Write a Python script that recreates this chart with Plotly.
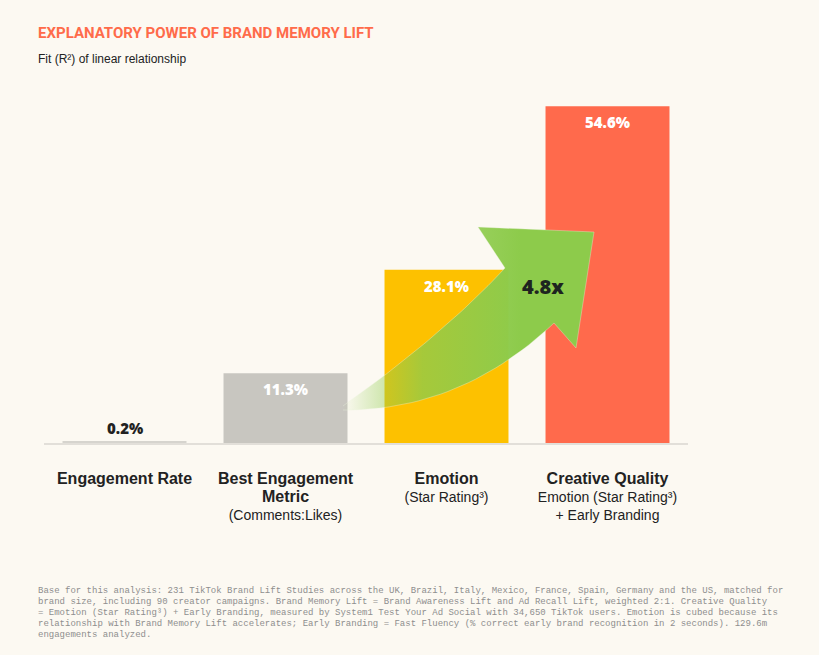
import plotly.graph_objects as go

# data
categories = ["Engagement Rate", "Best Engagement Metric", "Emotion", "Creative Quality"]
values = [0.2, 11.3, 28.1, 54.6]
value_labels = ["0.2%", "11.3%", "28.1%", "54.6%"]
tick_labels = [
    "<span style='font-size:16px'><b>Engagement Rate</b></span>",
    "<span style='font-size:16px'><b>Best Engagement</b></span><br>"
    "<span style='font-size:16px'><b>Metric</b></span><br>(Comments:Likes)",
    "<span style='font-size:16px'><b>Emotion</b></span><br>(Star Rating³)",
    "<span style='font-size:16px'><b>Creative Quality</b></span><br>"
    "Emotion (Star Rating³)<br>+ Early Branding",
]
multiplier_label = "4.8x"

footnote_lines = [
    "Base for this analysis: 231 TikTok Brand Lift Studies across the UK, Brazil, Italy, Mexico, France, Spain, Germany and the US, matched for",
    "brand size, including 90 creator campaigns. Brand Memory Lift = Brand Awareness Lift and Ad Recall Lift, weighted 2:1. Creative Quality",
    "= Emotion (Star Rating³) + Early Branding, measured by System1 Test Your Ad Social with 34,650 TikTok users. Emotion is cubed because its",
    "relationship with Brand Memory Lift accelerates; Early Branding = Fast Fluency (% correct early brand recognition in 2 seconds). 129.6m",
    "engagements analyzed.",
]

W, H = 819, 655
BG = "#FCF9F2"
bar_colors = ["#D6D4CE", "#C8C6C0", "#FDC100", "#FF6A4C"]
label_colors = ["#222222", "#FFFFFF", "#FFFFFF", "#FFFFFF"]
label_shift = [14, -16, -16, -16]


def px(x):
    return x / W


def py(y):
    return 1 - y / H


fig = go.Figure()

fig.add_trace(go.Bar(
    x=categories, y=values,
    marker=dict(color=bar_colors, line=dict(width=0)),
    hoverinfo="skip", showlegend=False,
))


# curved arrow (decoration) drawn in a pixel frame on a second, full-page axis pair
def quad(p0, c, p1, n=30):
    pts = []
    for i in range(n + 1):
        t = i / n
        a, b, d = (1 - t) ** 2, 2 * (1 - t) * t, t ** 2
        pts.append((a * p0[0] + b * c[0] + d * p1[0], a * p0[1] + b * c[1] + d * p1[1]))
    return pts


upper = quad((343, 406), (444, 334), (505, 268))
lower = quad((554, 323), (461, 411), (343, 410))
head = [(478, 227), (594, 232), (576, 348)]
arrow = upper + head + lower
fig.add_trace(go.Scatter(
    x=[p[0] for p in arrow], y=[p[1] for p in arrow],
    xaxis="x2", yaxis="y2",
    mode="lines", fill="toself",
    line=dict(width=0.6, color="rgba(235,245,220,0.6)"),
    fillgradient=dict(
        type="horizontal", start=343, stop=520,
        colorscale=[[0, "rgba(141,203,75,0)"], [0.45, "rgba(141,203,75,0.78)"],
                    [1, "rgba(141,203,75,1)"]],
    ),
    hoverinfo="skip", showlegend=False,
))

annotations = []
for cat, val, lab, col, sh in zip(categories, values, value_labels, label_colors, label_shift):
    annotations.append(dict(
        x=cat, y=val, xref="x", yref="y", text=lab, showarrow=False,
        yshift=sh, font=dict(family="Open Sans", size=15, color=col, weight=800),
    ))

annotations.append(dict(
    x=px(543), y=py(286), xref="paper", yref="paper", text=multiplier_label,
    showarrow=False, font=dict(family="Open Sans", size=20, color="#1E2420", weight=800),
))

annotations.append(dict(
    x=px(36), y=py(33), xref="paper", yref="paper", xanchor="left", yanchor="middle",
    text="<b>EXPLANATORY POWER OF BRAND MEMORY LIFT</b>", showarrow=False,
    font=dict(family="Roboto", size=15, color="#FF6B4A"),
))
annotations.append(dict(
    x=px(36), y=py(59), xref="paper", yref="paper", xanchor="left", yanchor="middle",
    text="Fit (R²) of linear relationship", showarrow=False,
    font=dict(family="Liberation Sans", size=12, color="#222222"),
))

for i, line in enumerate(footnote_lines):
    annotations.append(dict(
        x=px(36), y=py(591 + 11 * i), xref="paper", yref="paper",
        xanchor="left", yanchor="middle", text=line, showarrow=False,
        font=dict(family="Liberation Mono", size=9, color="#8E8E8E"),
    ))

fig.update_layout(
    width=W, height=H,
    margin=dict(l=0, r=0, t=0, b=0),
    paper_bgcolor=BG, plot_bgcolor="rgba(0,0,0,0)",
    bargap=0.23,
    xaxis=dict(
        domain=[px(44), px(688)],
        tickmode="array", tickvals=categories, ticktext=tick_labels,
        tickfont=dict(family="Liberation Sans", size=14, color="#222222"),
        ticks="", showgrid=False, zeroline=False,
        showline=True, linecolor="#E2DFD9", linewidth=2,
        ticklabelstandoff=22, fixedrange=True,
    ),
    yaxis=dict(
        domain=[py(443), py(73)], range=[0, 60],
        visible=False, showgrid=False, zeroline=False, fixedrange=True,
    ),
    xaxis2=dict(domain=[0, 1], range=[0, W], anchor="y2", visible=False, fixedrange=True),
    yaxis2=dict(domain=[0, 1], range=[H, 0], anchor="x2", visible=False, fixedrange=True),
    annotations=annotations,
)

# drop the page's default body margin so the figure fills the window
fig.write_html(
    "out.html",
    config={"displayModeBar": False},
    post_script="document.body.style.margin='0';document.body.style.background='%s';" % BG,
)
